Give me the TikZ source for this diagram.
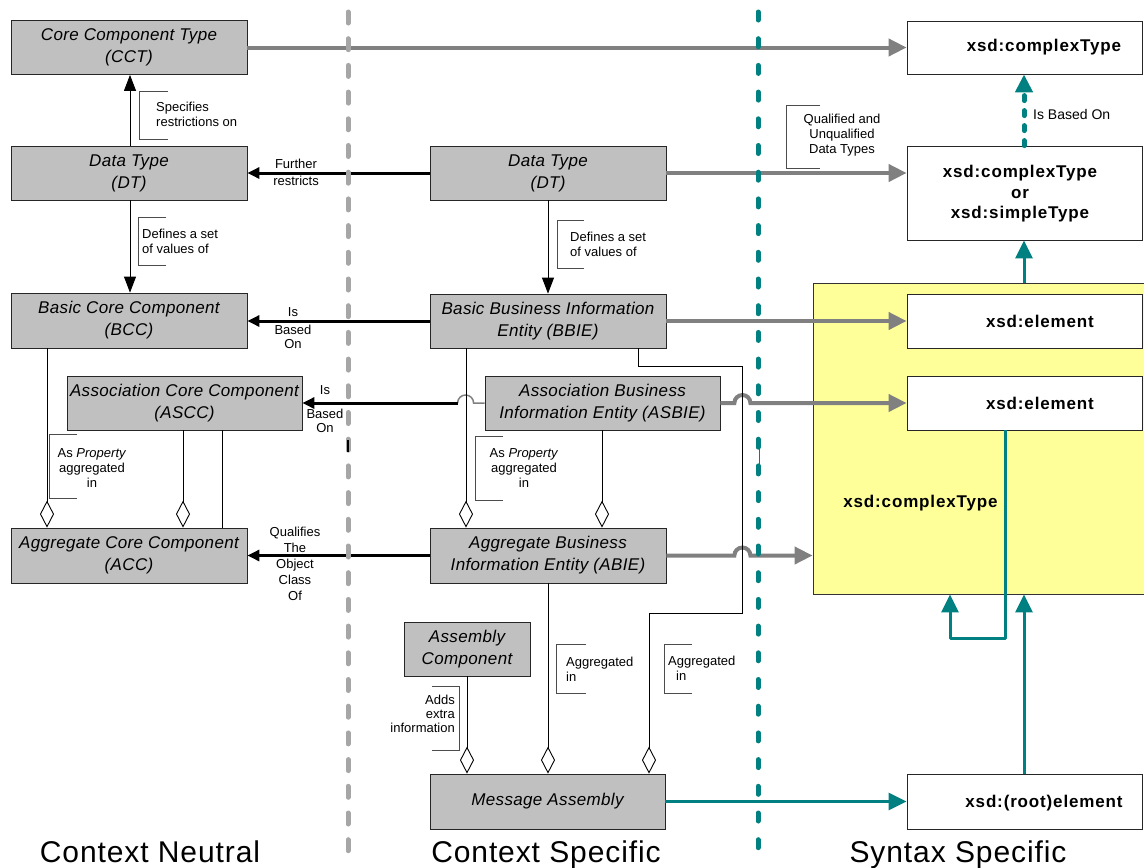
\documentclass[tikz,border=0pt]{standalone}
\usepackage{fontspec}
\setmainfont{Liberation Sans}
\newfontfamily\boxfont[LetterSpace=2]{Liberation Sans}
\newfontfamily\titlefont[LetterSpace=3]{Liberation Sans}
\newfontfamily\xfont[LetterSpace=5]{Liberation Sans}
\usetikzlibrary{arrows.meta}
\definecolor{boxgray}{RGB}{192,192,192}
\definecolor{linegray}{RGB}{128,128,128}
\definecolor{sepgray}{RGB}{166,166,166}
\definecolor{tealc}{RGB}{0,128,128}
\definecolor{yelc}{RGB}{255,255,153}
\begin{document}
\begin{tikzpicture}[x=1pt,y=-1pt,
  gbox/.style={draw=black!85, fill=boxgray, line width=0.8pt, minimum width=236pt, minimum height=54pt, inner sep=0pt, align=center, font=\boxfont\itshape\fontsize{17}{22}\selectfont},
  wbox/.style={draw=black!85, fill=white, line width=0.8pt, minimum width=235pt, minimum height=54pt, inner sep=0pt},
  xlbl/.style={font=\xfont\bfseries\fontsize{17}{20.5}\selectfont, align=center, inner sep=0pt},
  lbl/.style={font=\fontsize{13}{15}\selectfont, inner sep=0pt},
  tlbl/.style={font=\fontsize{14}{16}\selectfont, inner sep=0pt},
  title/.style={font=\titlefont\fontsize{30}{30}\selectfont, inner sep=0pt, anchor=base},
  brk/.style={draw=black!70, line width=0.7pt},
  garrow/.style={draw=linegray, line width=4pt, -{Triangle[length=18pt,width=17pt]}},
  barrow/.style={draw=black, line width=3pt, -{Triangle[length=12pt,width=11pt]}},
  tarrow/.style={draw=black, line width=0.9pt, -{Triangle[length=16pt,width=12pt]}},
  agg/.style={draw=black, line width=0.9pt, -{Diamond[open,length=27pt,width=14pt]}},
  thinl/.style={draw=black, line width=0.9pt},
  tlarrow/.style={draw=tealc, line width=3pt, line join=round, -{Triangle[length=18pt,width=17pt]}},
  tdot/.style={draw=tealc, line width=5pt, line cap=round, dash pattern=on 5pt off 10pt, -{Triangle[length=18pt,width=17pt]}},
  sep/.style={draw=sepgray, line width=5pt, line cap=round, dash pattern=on 11pt off 15.7pt},
  tsep/.style={draw=tealc, line width=5pt, line cap=round, dash pattern=on 8pt off 18.7pt}
]
\useasboundingbox (0,0) rectangle (1144,868);

% yellow complexType area
\node[draw=black!80, fill=yelc, line width=0.8pt, minimum width=333pt, minimum height=311pt, inner sep=0pt] (yel) at (979.5,438.5) {};
\node[xlbl] (yelt) at (920.5,503) {xsd:complexType};

% left column
\node[gbox] (cct) at (129,47.5) {Core Component Type\\(CCT)};
\node[gbox] (dtl) at (129,173) {Data Type\\(DT)};
\node[gbox, minimum height=55pt] (bcc) at (129,320.5) {Basic Core Component\\(BCC)};
\node[gbox, minimum width=235pt] (ascc) at (184.5,403) {Association Core Component\\(ASCC)};
\node[gbox, minimum height=55pt] (acc) at (129,555.5) {Aggregate Core Component\\(ACC)};

% middle column
\node[gbox] (dtm) at (548,173) {Data Type\\(DT)};
\node[gbox] (bbie) at (548,321) {Basic Business Information\\Entity (BBIE)};
\node[gbox, minimum width=235pt] (asbie) at (602.5,403) {Association Business\\Information Entity (ASBIE)};
\node[gbox, minimum height=55pt] (abie) at (548,555.5) {Aggregate Business\\Information Entity (ABIE)};
\node[gbox, minimum width=126pt] (ac) at (467,649) {Assembly\\Component};
\node[gbox, minimum width=235pt, minimum height=55pt] (ma) at (547.5,801.5) {Message Assembly};

% right column
\node[wbox, minimum height=53pt] (x1) at (1024.5,47.5) {};
\node[xlbl] (x1t) at (1044,47.5) {xsd:complexType};
\node[wbox, minimum height=94pt] (x2) at (1024.5,193) {};
\node[xlbl] (x2t) at (1020,194) {xsd:complexType\\or\\xsd:simpleType};
\node[wbox] (xe1) at (1024.5,321) {};
\node[xlbl] (xe1t) at (1040,321) {xsd:element};
\node[wbox] (xe2) at (1024.5,403) {};
\node[xlbl] (xe2t) at (1040,403) {xsd:element};
\node[wbox, minimum height=55pt] (xr) at (1024.5,801.5) {};
\node[xlbl] (xrt) at (1044,803) {xsd:(root)element};

% gray mapping arrows
\draw[garrow] (cct.east) -- (x1.west);
\draw[garrow] (dtm.east) -- (dtm.east -| x2.west);
\draw[garrow] (bbie.east) -- (xe1.west);
\draw[garrow] (asbie.east) -- ++(14,0) arc[start angle=180, end angle=360, radius=8] -- (xe2.west);
\draw[garrow] (abie.east) -- ++(68,0) arc[start angle=180, end angle=360, radius=8] -- (abie.east -| yel.west);

% black restriction / basis arrows
\draw[barrow] (dtm.west) -- (dtl.east);
\draw[barrow] (bbie.west) -- (bbie.west -| bcc.east);
\coordinate (hop) at (458,403);
\draw[draw=linegray, line width=1.5pt] (asbie.west) -- ++(-11,0) arc[start angle=0, end angle=-180, radius=8];
\draw[barrow] (hop) -- (ascc.east);
\draw[barrow] (abie.west) -- (abie.west -| acc.east);

% thin arrows
\draw[tarrow] ([xshift=1pt]dtl.north) -- ([xshift=1pt]cct.south);
\draw[tarrow] ([xshift=1pt]dtl.south) -- ([xshift=1pt]bcc.north);
\draw[tarrow] (dtm.south) -- (bbie.north);

% aggregations
\draw[agg] ([xshift=-82pt]bcc.south) -- ([xshift=-82pt]acc.north);
\draw[agg] ([xshift=-1.5pt]ascc.south) -- ([xshift=54pt]acc.north);
\draw[thinl] ([xshift=37.5pt]ascc.south) -- ([xshift=93pt]acc.north);
\draw[agg] ([xshift=-82pt]bbie.south) -- ([xshift=-82pt]abie.north);
\draw[agg] ([xshift=-0.5pt]asbie.south) -- ([xshift=54pt]abie.north);
\draw[agg] ([xshift=90pt]bbie.south) -- ++(0,18) -| (742,613) -| ([xshift=101.5pt]ma.north);
\draw[agg] (abie.south) -- ([xshift=0.5pt]ma.north);
\draw[agg] (ac.south) -- ([xshift=-80.5pt]ma.north);

% teal syntax arrows
\draw[tlarrow] (ma.east) -- (xr.west);
\draw[tlarrow] ([xshift=-0.5pt]xr.north) -- ([xshift=44.5pt]yel.south);
\draw[tlarrow] ([xshift=-19.5pt]xe2.south) -- ++(0,208) -| ([xshift=-29.5pt]yel.south);
\draw[tlarrow] ([xshift=44.5pt]yel.north) -- ([xshift=-0.5pt]x2.south);
\draw[tdot] ([xshift=-0.5pt]x2.north) -- ([xshift=-0.5pt]x1.south);

% labels with brackets
\node[lbl, align=left, anchor=west] (lspec) at (156,114) {Specifies\\restrictions on};
\draw[brk] (168,91) -- (139,91) -- (139,139) -- (168,139);
\node[lbl, align=left, anchor=west] (ldef1) at (142,241) {Defines a set\\of values of};
\draw[brk] (166,217) -- (138,217) -- (138,265) -- (166,265);
\node[lbl, align=center, font=\fontsize{13}{17}\selectfont] (lfur) at (296,172) {Further\\restricts};
\node[lbl] (lis1) at (293,312) {Is};
\node[lbl, align=center, font=\fontsize{13}{13.5}\selectfont] (lbo1) at (293,337) {Based\\On};
\node[lbl] (lis2) at (325,390) {Is};
\node[lbl, align=center, font=\fontsize{13}{13.5}\selectfont] (lbo2) at (325,421) {Based\\On};
\node[lbl, align=center, font=\fontsize{13}{16}\selectfont] (lqual) at (295,564) {Qualifies\\The\\Object\\Class\\Of};
\node[lbl, align=center] (lqud) at (842,135) {Qualified and\\Unqualified\\Data Types};
\draw[brk] (820,105) -- (786,105) -- (786,168) -- (820,168);
\node[lbl, align=left, anchor=west] (ldef2) at (570,244) {Defines a set\\of values of};
\draw[brk] (584,220) -- (557,220) -- (557,268) -- (584,268);
\node[lbl, align=center] (lprop1) at (92,468) {As \textit{Property}\\aggregated\\in};
\draw[brk] (77,434) -- (49,434) -- (49,498) -- (77,498);
\node[lbl, align=center] (lprop2) at (524,468) {As \textit{Property}\\aggregated\\in};
\draw[brk] (503,436) -- (475,436) -- (475,500) -- (503,500);
\node[lbl, align=left, anchor=west] (lagg1) at (566,669) {Aggregated\\in};
\draw[brk] (586,644) -- (556,644) -- (556,693) -- (586,693);
\node[lbl, align=left, anchor=west] (lagg2) at (668,668) {Aggregated\\\hspace*{8pt}in};
\draw[brk] (692,644) -- (664,644) -- (664,693) -- (692,693);
\node[lbl, align=right, anchor=east, font=\fontsize{13}{14}\selectfont] (ladds) at (455,714) {Adds\\extra\\information};
\draw[brk] (432,686) -- (459,686) -- (459,750) -- (432,750);
\node[tlbl, anchor=west] (lisb) at (1033,114) {Is Based On};

% column separators
\draw[sep] (348,12) -- (348,862);
\draw[tsep] (758,12) -- (758,852);
\draw[black, line width=1.5pt] (348,440) -- (348,452);
\draw[tealc, line width=1pt] (759,438) -- (759,470);

% column titles
\node[title] (tcn) at (150,862) {Context Neutral};
\node[title] (tcs) at (546,862) {Context Specific};
\node[title] (tss) at (958,862) {Syntax Specific};
\end{tikzpicture}
\end{document}
